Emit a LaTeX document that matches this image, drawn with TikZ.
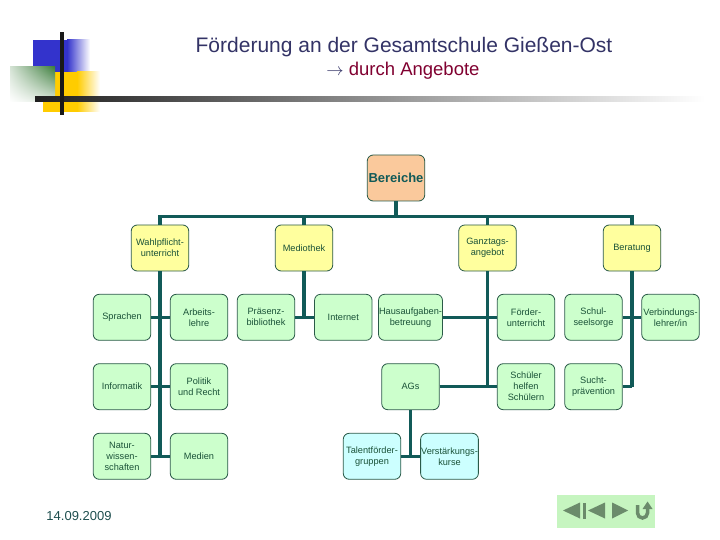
\documentclass[tikz,border=0pt]{standalone}
\usepackage{fontspec}
\setmainfont{Liberation Sans}
\usepackage{tikz}
\usetikzlibrary{arrows.meta}
\usetikzlibrary{positioning}
\usetikzlibrary{calc}
\usetikzlibrary{shadings}
\definecolor{titleblue}{HTML}{333366}
\definecolor{subred}{HTML}{800030}
\definecolor{conncol}{HTML}{115A58}
\definecolor{boxline}{HTML}{2A5A48}
\definecolor{boxtext}{HTML}{1A5238}
\definecolor{yellowbox}{HTML}{FFFF9E}
\definecolor{greenbox}{HTML}{CCFFCC}
\definecolor{cyanbox}{HTML}{CCFFFF}
\definecolor{peachbox}{HTML}{FAC99C}
\definecolor{decoblue}{HTML}{3333CC}
\definecolor{decoyellow}{HTML}{FFCC00}
\definecolor{decogreen}{HTML}{3F7F3F}
\definecolor{navbg}{HTML}{C6F5C0}
\definecolor{navicon}{HTML}{6B8B6B}
\definecolor{datecol}{HTML}{1E4E4E}
\tikzset{
    orgbox/.style={draw=boxline, line width=0.8pt, rounded corners=6pt,
        minimum width=57.5pt, minimum height=46pt, inner sep=0.5pt,
        align=center, text=boxtext, font=\fontsize{9.2}{11}\selectfont},
    topbox/.style={orgbox, fill=yellowbox},
    subbox/.style={orgbox, fill=greenbox},
    leafbox/.style={orgbox, fill=cyanbox},
    conn/.style={draw=conncol, line width=3.5pt},
}
\begin{document}
\begin{tikzpicture}[x=1pt,y=-1pt]
	\useasboundingbox (0,0) rectangle (720,540);
	% corner decoration
	\fill[decoblue] (33,40) rectangle (67,72);
	\shade[left color=decoblue, right color=white] (67,40) rectangle (90,72);
	\fill[decoyellow] (43,72) rectangle (77,112);
	\shade[left color=decoyellow, right color=white] (77,72) rectangle (100,112);
	\shade[upper right=decogreen, upper left=decogreen!22!white,
	       lower right=decogreen!18!white, lower left=white] (10,67) rectangle (55,102);
	\shade[left color=black!88, right color=white] (35,96.5) rectangle (705,101.5);
	\fill[black!90] (59.7,32) rectangle (63.7,115);
	% title
	\node (title) at (404,47) {\fontsize{21}{24}\selectfont\color{titleblue}Förderung an der Gesamtschule Gießen-Ost};
	\node (subtitle) at (403,71) {\fontsize{18.5}{22}\selectfont{\color{titleblue}$\rightarrow$} \color{subred}durch Angebote};
	% chart
	\node[orgbox, fill=peachbox, text=conncol, font=\fontsize{13}{15}\bfseries] (bereiche) at (396,178) {Bereiche};
	\node[topbox] (wahl) at (160,248) {Wahlpflicht-\\unterricht};
	\node[topbox] (medio) at (304,248) {Mediothek};
	\node[topbox] (ganz) at (487.5,248) {Ganztags-\\angebot};
	\node[topbox] (berat) at (632,248) {Beratung};
	\node[subbox] (sprachen) at (122,317.3) {Sprachen};
	\node[subbox] (arbeit) at (199,317.3) {Arbeits-\\lehre};
	\node[subbox] (informatik) at (122,386.7) {Informatik};
	\node[subbox] (politik) at (199,386.7) {Politik\\und Recht};
	\node[subbox] (natur) at (122,456.3) {Natur-\\wissen-\\schaften};
	\node[subbox] (medien) at (199,456.3) {Medien};
	\node[subbox] (praesenz) at (266,317.3) {Präsenz-\\bibliothek};
	\node[subbox] (internet) at (343.3,317.3) {Internet};
	\node[subbox] (haus) at (410.5,317.3) {Hausaufgaben-\\betreuung};
	\node[subbox] (ags) at (410.5,386.7) {AGs};
	\node[subbox] (foerder) at (526,317.3) {Förder-\\unterricht};
	\node[subbox] (schueler) at (526,386.7) {Schüler\\helfen\\Schülern};
	\node[subbox] (seel) at (593.5,317.3) {Schul-\\seelsorge};
	\node[subbox] (verb) at (670.5,317.3) {Verbindungs-\\lehrer/in};
	\node[subbox] (sucht) at (593.5,386.7) {Sucht-\\prävention};
	\node[leafbox] (talent) at (372,456.3) {Talentförder-\\gruppen};
	\node[leafbox] (verst) at (449.5,456.3) {Verstärkungs-\\kurse};
	% connectors
	\coordinate (bar) at (396,216.7);
	\draw[conn] (bereiche.south) -- (bar);
	\draw[conn] (wahl.north) |- (bar) -| (berat.north);
	\draw[conn] (medio.north) -- (medio.north |- bar);
	\draw[conn] (ganz.north) -- (ganz.north |- bar);
	\draw[conn] (wahl.south) -- (wahl.south |- natur);
	\draw[conn] (sprachen.east) -- (arbeit.west);
	\draw[conn] (informatik.east) -- (politik.west);
	\draw[conn] (natur.east) -- (medien.west);
	\draw[conn] (medio.south) -- (medio.south |- internet);
	\draw[conn] (praesenz.east) -- (internet.west);
	\draw[conn] (ganz.south) -- (ganz.south |- ags);
	\draw[conn] (haus.east) -- (foerder.west);
	\draw[conn] (ags.east) -- (schueler.west);
	\draw[conn] (berat.south) -- (berat.south |- sucht);
	\draw[conn] (seel.east) -- (verb.west);
	\draw[conn] (sucht.east) -- (berat.south |- sucht);
	\draw[conn] (ags.south) -- (ags.south |- talent);
	\draw[conn] (talent.east) -- (verst.west);
	% footer
	\node[text=datecol, font=\fontsize{13}{15}\selectfont] (datum) at (79,516) {14.09.2009};
	\fill[navbg] (556.7,495) rectangle (655,528);
	\fill[navicon] (563,510.5) -- (580,502.5) -- (580,518.5) -- cycle;
	\fill[navicon] (583,502.5) rectangle (586,518.5);
	\fill[navicon] (588,510.5) -- (605,502.5) -- (605,518.5) -- cycle;
	\fill[navicon] (612,502.5) -- (628,510.5) -- (612,518.5) -- cycle;
	\draw[navicon, line width=3.5pt] (637.5,505) -- (637.5,513) arc[start angle=180, end angle=0, radius=5] -- (647.5,508);
	\fill[navicon] (642.5,509) -- (652.5,509) -- (647.5,501.5) -- cycle;
\end{tikzpicture}
\end{document}
